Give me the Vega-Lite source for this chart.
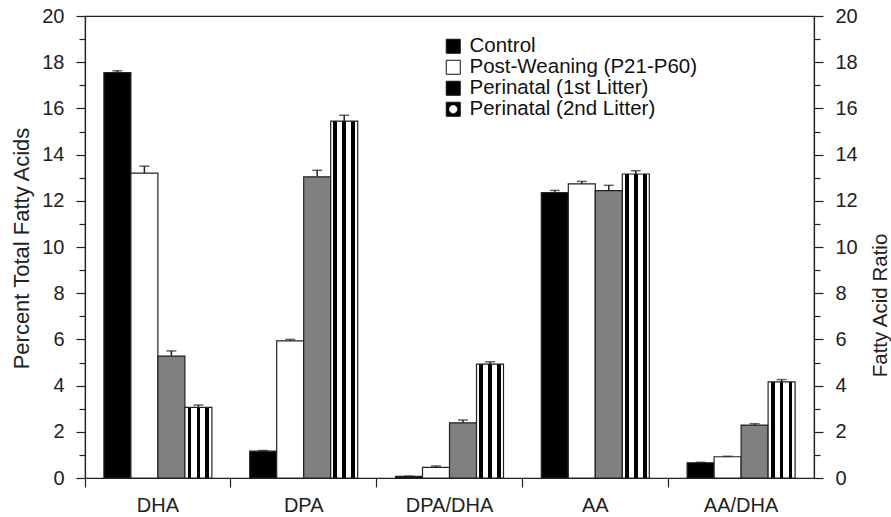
{
  "$schema": "https://vega.github.io/schema/vega-lite/v6.json",
  "width": 729,
  "height": 462,
  "autosize": {"type": "none"},
  "padding": {"left": 85, "top": 16, "right": 77, "bottom": 39},
  "background": "white",
  "config": {
    "font": "Liberation Sans",
    "view": {"stroke": "#222", "strokeWidth": 1.2},
    "axis": {
      "labelFont": "Liberation Sans",
      "titleFont": "Liberation Sans",
      "labelFontSize": 20,
      "titleFontSize": 21,
      "titleFontWeight": "normal",
      "labelColor": "#222",
      "titleColor": "#222",
      "domainColor": "#222",
      "tickColor": "#222",
      "domainWidth": 1.2,
      "tickWidth": 1.2,
      "grid": false
    },
    "legend": {
      "labelFont": "Liberation Sans",
      "labelFontSize": 20.5,
      "labelColor": "#111",
      "labelLimit": 0
    }
  },
  "data": {
    "values": [
      {"fa": "DHA", "group": "Control", "value": 17.55, "upper": 17.63},
      {"fa": "DHA", "group": "Post-Weaning (P21-P60)", "value": 13.2, "upper": 13.5},
      {"fa": "DHA", "group": "Perinatal (1st Litter)", "value": 5.28, "upper": 5.5},
      {"fa": "DHA", "group": "Perinatal (2nd Litter)", "value": 3.06, "upper": 3.16},
      {"fa": "DPA", "group": "Control", "value": 1.16, "upper": 1.19},
      {"fa": "DPA", "group": "Post-Weaning (P21-P60)", "value": 5.94, "upper": 6.0},
      {"fa": "DPA", "group": "Perinatal (1st Litter)", "value": 13.04, "upper": 13.32},
      {"fa": "DPA", "group": "Perinatal (2nd Litter)", "value": 15.45, "upper": 15.7},
      {"fa": "DPA/DHA", "group": "Control", "value": 0.07, "upper": 0.08},
      {"fa": "DPA/DHA", "group": "Post-Weaning (P21-P60)", "value": 0.46, "upper": 0.52},
      {"fa": "DPA/DHA", "group": "Perinatal (1st Litter)", "value": 2.39, "upper": 2.51},
      {"fa": "DPA/DHA", "group": "Perinatal (2nd Litter)", "value": 4.93, "upper": 5.03},
      {"fa": "AA", "group": "Control", "value": 12.35, "upper": 12.45},
      {"fa": "AA", "group": "Post-Weaning (P21-P60)", "value": 12.73, "upper": 12.84},
      {"fa": "AA", "group": "Perinatal (1st Litter)", "value": 12.44, "upper": 12.67},
      {"fa": "AA", "group": "Perinatal (2nd Litter)", "value": 13.16, "upper": 13.3},
      {"fa": "AA/DHA", "group": "Control", "value": 0.66, "upper": 0.68},
      {"fa": "AA/DHA", "group": "Post-Weaning (P21-P60)", "value": 0.92, "upper": 0.94},
      {"fa": "AA/DHA", "group": "Perinatal (1st Litter)", "value": 2.29, "upper": 2.35},
      {"fa": "AA/DHA", "group": "Perinatal (2nd Litter)", "value": 4.16, "upper": 4.26}
    ]
  },
  "encoding": {
    "x": {
      "field": "fa",
      "type": "nominal",
      "sort": ["DHA", "DPA", "DPA/DHA", "AA", "AA/DHA"],
      "scale": {"paddingInner": 0, "paddingOuter": 0},
      "axis": {
        "title": null,
        "labelAngle": 0,
        "bandPosition": 0,
        "tickSize": 9,
        "labelPadding": 8
      }
    },
    "xOffset": {
      "field": "group",
      "type": "nominal",
      "sort": ["Control", "Post-Weaning (P21-P60)", "Perinatal (1st Litter)", "Perinatal (2nd Litter)"],
      "scale": {"paddingInner": 0, "paddingOuter": 0.7}
    }
  },
  "layer": [
    {
      "mark": {"type": "bar", "stroke": "#222", "strokeWidth": 1.2},
      "encoding": {
        "y": {
          "field": "value",
          "type": "quantitative",
          "scale": {"domain": [0, 20], "nice": false},
          "axis": {
            "orient": "left",
            "values": [0,1,2,3,4,5,6,7,8,9,10,11,12,13,14,15,16,17,18,19,20],
            "labelExpr": "datum.value % 2 === 0 ? datum.label : ''",
            "tickSize": {"condition": {"test": "datum.value % 2 === 0", "value": 9}, "value": 6},
            "labelPadding": 12,
            "title": "Percent Total Fatty Acids",
            "titleFontSize": 22,
            "titleAngle": -90,
            "titleX": -57,
            "titleY": 232,
            "titleAlign": "center",
            "titleBaseline": "alphabetic"
          }
        },
        "fill": {
          "field": "group",
          "type": "nominal",
          "condition": [
            {"test": "datum.group === 'Perinatal (1st Litter)'", "value": "#808080"},
            {
              "test": "datum.group === 'Perinatal (2nd Litter)'",
              "value": {
                "gradient": "linear", "x1": 0, "y1": 0, "x2": 1, "y2": 0,
                "stops": [
                  {"offset": 0, "color": "white"},
                  {"offset": 0.1, "color": "white"},
                  {"offset": 0.1, "color": "black"},
                  {"offset": 0.24, "color": "black"},
                  {"offset": 0.24, "color": "white"},
                  {"offset": 0.43, "color": "white"},
                  {"offset": 0.43, "color": "black"},
                  {"offset": 0.57, "color": "black"},
                  {"offset": 0.57, "color": "white"},
                  {"offset": 0.76, "color": "white"},
                  {"offset": 0.76, "color": "black"},
                  {"offset": 0.9, "color": "black"},
                  {"offset": 0.9, "color": "white"},
                  {"offset": 1, "color": "white"}
                ]
              }
            }
          ],
          "scale": {
            "domain": ["Control", "Post-Weaning (P21-P60)", "Perinatal (1st Litter)", "Perinatal (2nd Litter)"],
            "range": [
              "#000000",
              "#ffffff",
              "#000000",
              {"expr": "{gradient: 'radial', x1: 0.5, y1: 0.5, r1: 0, x2: 0.5, y2: 0.5, r2: 0.5, stops: [{offset: 0, color: 'white'}, {offset: 0.6, color: 'white'}, {offset: 0.6, color: 'black'}, {offset: 1, color: 'black'}]}"}
            ]
          },
          "legend": {
            "title": null,
            "orient": "none",
            "legendX": 358,
            "legendY": 20,
            "symbolType": "square",
            "symbolSize": 196,
            "symbolStrokeColor": "#111",
            "symbolStrokeWidth": 1,
            "symbolOpacity": 1,
            "labelOffset": 6,
            "rowPadding": 0
          }
        }
      }
    },
    {
      "mark": {"type": "rule", "color": "#222", "strokeWidth": 1.5},
      "encoding": {
        "y": {"field": "value", "type": "quantitative", "scale": {"domain": [0, 20], "nice": false}, "axis": null},
        "y2": {"field": "upper"}
      }
    },
    {
      "mark": {"type": "tick", "color": "#222", "thickness": 1.5, "size": 10},
      "encoding": {
        "y": {
          "field": "upper",
          "type": "quantitative",
          "scale": {"domain": [0, 20], "nice": false},
          "axis": {
            "orient": "right",
            "values": [0,1,2,3,4,5,6,7,8,9,10,11,12,13,14,15,16,17,18,19,20],
            "labelExpr": "datum.value % 2 === 0 ? datum.label : ''",
            "tickSize": {"condition": {"test": "datum.value % 2 === 0", "value": 9}, "value": 6},
            "labelPadding": 12,
            "title": "Fatty Acid Ratio",
            "titleFontSize": 20.5,
            "titleAngle": -90,
            "titleX": 72,
            "titleY": 289,
            "titleAlign": "center",
            "titleBaseline": "alphabetic"
          }
        }
      }
    }
  ],
  "resolve": {"scale": {"y": "independent"}}
}
